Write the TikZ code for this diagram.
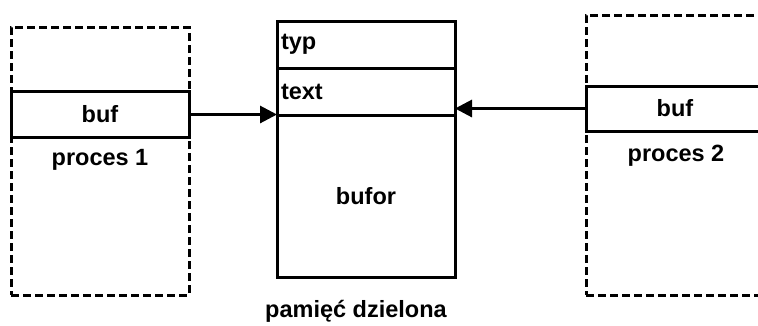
\documentclass[tikz,border=0pt]{standalone}
\usepackage{fontspec}
\setmainfont{Liberation Sans}
\usetikzlibrary{arrows.meta}

\begin{document}
\begin{tikzpicture}[x=1pt,y=-1pt,
    font=\fontsize{23.5}{28}\selectfont\bfseries,
    every node/.style={inner sep=0pt,outer sep=0pt},
    proc/.style={draw,dash pattern=on 8pt off 4pt,line width=3pt,minimum width=178pt},
    cell/.style={draw,line width=3pt,minimum width=178pt},
    conn/.style={line width=3pt,-{Triangle[length=17pt,width=17pt]}}]
        \useasboundingbox (0,0) rectangle (758,325);

        % Proces 1
        \node[proc,minimum height=268pt] (p1) at (100,161) {};
        \node[cell,minimum height=46pt] (buf1) at (100,114.5) {buf};
        \node (l1) at (100,160) {proces 1};

        % Pamiec dzielona
        \node[cell,minimum height=256pt] (mem) at (366,149) {};
        \node[cell,minimum height=47pt,text width=170pt,align=left] (typ) at (366,44.5) {typ};
        \node[cell,minimum height=47pt,text width=170pt,align=left] (txt) at (366,91.5) {text};
        \node (bufor) at (366,196) {bufor};
        \node (lmem) at (356,311) {pamięć dzielona};

        % Proces 2
        \node[proc,minimum height=280pt] (p2) at (675,155) {};
        \node[cell,minimum height=45pt] (buf2) at (675,108.5) {buf};
        \node (l2) at (676,156) {proces 2};

        % Strzalki
        \draw[conn] (buf1.east) -- (buf1.east -| mem.west);
        \draw[conn] (buf2.west) -- (buf2.west -| mem.east);
    \end{tikzpicture}
\end{document}
